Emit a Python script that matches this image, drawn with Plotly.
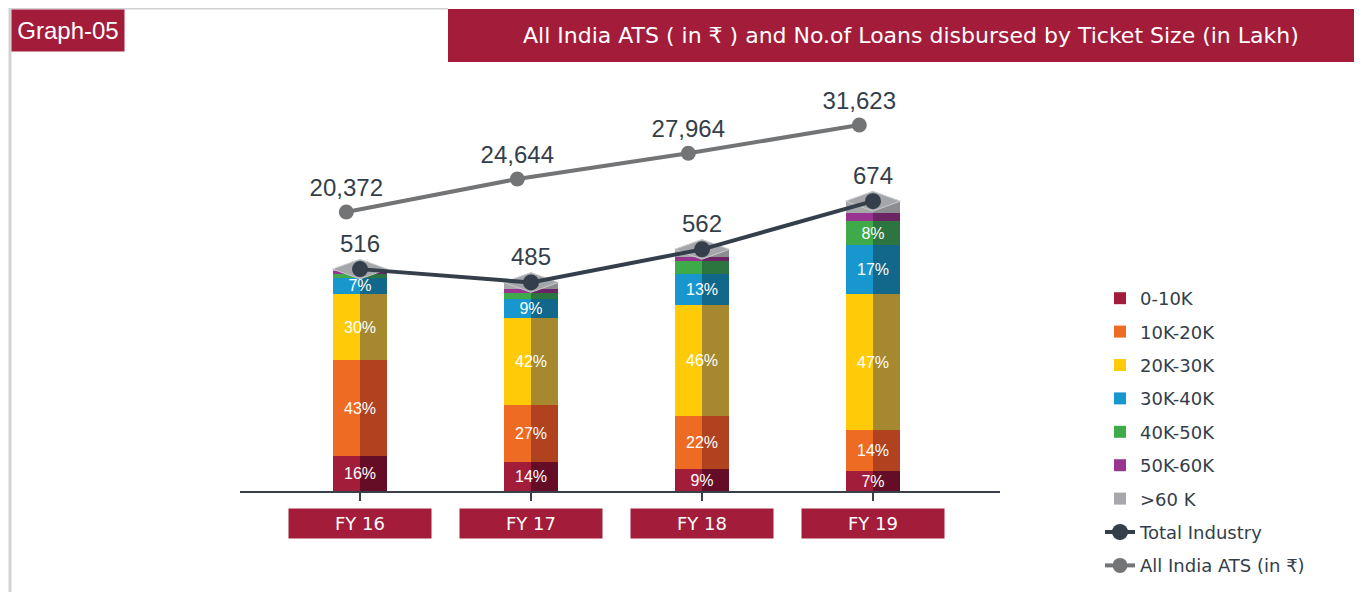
import plotly.graph_objects as go

# ---------------- data ----------------
years = ["FY 16", "FY 17", "FY 18", "FY 19"]
total_industry = [516, 485, 562, 674]          # No. of loans (in lakh)
ats = [20372, 24644, 27964, 31623]             # All India ATS (in ₹)

segments = ["0-10K", "10K-20K", "20K-30K", "30K-40K", "40K-50K", "50K-60K", ">60 K"]
share_0_10 = [16, 14, 9, 7]
share_10_20 = [43, 27, 22, 14]
share_20_30 = [30, 42, 46, 47]
share_30_40 = [7, 9, 13, 17]
share_40_50 = [2, 3, 5, 8]
share_50_60 = [1, 2, 2, 3]
share_60_plus = [1, 3, 3, 4]
shares = [share_0_10, share_10_20, share_20_30, share_30_40,
          share_40_50, share_50_60, share_60_plus]

# ---------------- style ----------------
PAD = 8                   # page body margin
W, H = 1362 - PAD, 592 - PAD
CRIMSON = "#A31C3A"
TEXT = "#343E4A"
FONT = "Liberation Sans, Arial, Helvetica, sans-serif"
WIDE = "DejaVu Sans, Verdana, sans-serif"
face_left = ["#A21D3A", "#EE6B24", "#FFCB08", "#1797CD", "#3FAA4A", "#973590", "#A6A8AB"]
face_right = ["#650D26", "#B0421F", "#A6892F", "#11688A", "#2C7440", "#6C2465", "#8B8D90"]
top_color = "#A4A6A9"

half_w = 0.16            # half bar width in category units
off = half_w / 2
diamond_h = 23           # iso depth of top face, in y units

px_per_x = 171
x0_px = 360
dom_l, dom_r = 240, 1000
base_px, top_px = 491, 70
px_per_unit = 0.43

def xp(px):
    return (px - PAD) / W

def yp(px):
    return 1 - (px - PAD) / H

x_range = [(dom_l - x0_px) / px_per_x, (dom_r - x0_px) / px_per_x]
y_range = [0, (base_px - top_px) / px_per_unit]
# ATS axis fitted so first / last points land near reference positions
s = (212 - 125) / (ats[-1] - ats[0])
y2_span = (base_px - top_px) / s
y2_lo = ats[0] - (base_px - 212) / s
y2_range = [y2_lo, y2_lo + y2_span]

fig = go.Figure()

idx = list(range(len(years)))
bar_x = []
for i in idx:
    bar_x += [i - off, i + off]

for k, name in enumerate(segments):
    vals = []
    cols = []
    for i in idx:
        v = shares[k][i] / 100 * total_industry[i]
        vals += [v, v]
        cols += [face_left[k], face_right[k]]
    fig.add_trace(go.Bar(
        x=bar_x, y=vals, width=half_w, name=name,
        marker=dict(color=cols, line=dict(width=0)),
        legendgroup=name, hoverinfo="skip"))

# top faces (iso diamonds) from totals
tx, ty = [], []
for i in idx:
    T = sum(shares[k][i] for k in range(len(segments))) / 100 * total_industry[i]
    tx += [i - half_w, i, i + half_w, i, i - half_w, None]
    ty += [T, T + diamond_h, T, T - diamond_h, T, None]
fig.add_trace(go.Scatter(x=tx, y=ty, mode="lines", fill="toself",
                         fillcolor=top_color, line=dict(color="#C9CBCD", width=1),
                         showlegend=False, hoverinfo="skip"))

# percentage labels
lx, ly, lt = [], [], []
for i in idx:
    cum = 0
    for k in range(len(segments)):
        v = shares[k][i] / 100 * total_industry[i]
        if shares[k][i] >= 7:
            lx.append(i)
            ly.append(cum + v / 2 - 4)
            lt.append(f"{shares[k][i]}%")
        cum += v
fig.add_trace(go.Scatter(x=lx, y=ly, text=lt, mode="text",
                         textfont=dict(color="white", size=16, family=FONT),
                         showlegend=False, hoverinfo="skip"))

# lines
fig.add_trace(go.Scatter(
    x=idx, y=total_industry, name="Total Industry", mode="lines+markers+text",
    line=dict(color="#343F4B", width=4), marker=dict(size=16, color="#343F4B"),
    text=[str(v) for v in total_industry], textposition="top center",
    textfont=dict(size=24, color=TEXT, family=FONT), legendgroup="ti", cliponaxis=False))
fig.add_trace(go.Scatter(
    x=[i - off for i in idx], y=ats, name="All India ATS (in ₹)", mode="lines+markers+text",
    line=dict(color="#737476", width=4), marker=dict(size=15, color="#737476"),
    text=[f"{v:,}" for v in ats], textposition="top center",
    textfont=dict(size=24, color=TEXT, family=FONT), yaxis="y2",
    legendgroup="ats", cliponaxis=False))

annotations = []
for i, yr in enumerate(years):
    annotations.append(dict(
        x=i, xref="x", y=yp(523.5), yref="paper", text=yr, showarrow=False,
        xanchor="center", yanchor="middle",
        bgcolor=CRIMSON, width=140, height=27, font=dict(color="white", size=18, family=WIDE)))
annotations.append(dict(
    x=xp(11), y=yp(9), xref="paper", yref="paper", xanchor="left", yanchor="top",
    text="Graph-05", showarrow=False, bgcolor=CRIMSON, width=110, height=39,
    font=dict(color="white", size=24, family=FONT)))
annotations.append(dict(
    x=xp(911), y=yp(35), xref="paper", yref="paper", xanchor="center", yanchor="middle",
    text="All India ATS ( in ₹ ) and No.of Loans disbursed by Ticket Size (in Lakh)",
    showarrow=False, font=dict(color="white", size=22, family=WIDE)))

shapes = [
    dict(type="rect", xref="paper", yref="paper", x0=xp(448), x1=1.0, y0=yp(62), y1=yp(9),
         fillcolor=CRIMSON, line=dict(width=0), layer="below"),
    dict(type="line", xref="paper", yref="paper", x0=xp(9), x1=xp(448), y0=yp(8), y1=yp(8),
         line=dict(color="#D2D2D2", width=3)),
    dict(type="line", xref="paper", yref="paper", x0=xp(10), x1=xp(10), y0=yp(8), y1=0,
         line=dict(color="#D2D2D2", width=3)),
]

fig.update_layout(
    width=W, height=H, barmode="stack", bargap=0,
    margin=dict(l=0, r=0, t=0, b=0),
    paper_bgcolor="white", plot_bgcolor="white",
    font=dict(family=FONT, color=TEXT),
    xaxis=dict(domain=[xp(dom_l), xp(dom_r)], range=x_range, showgrid=False, zeroline=False,
               showline=True, linecolor="#3A4049", linewidth=2,
               tickvals=idx, ticktext=["" for _ in idx], ticks="outside", ticklen=8,
               tickwidth=2, tickcolor="#3A4049", fixedrange=True),
    yaxis=dict(domain=[yp(base_px), yp(top_px)], range=y_range, visible=False, fixedrange=True),
    yaxis2=dict(domain=[yp(base_px), yp(top_px)], range=y2_range, overlaying="y",
                visible=False, fixedrange=True),
    showlegend=True,
    legend=dict(x=xp(1100), y=yp(280), xanchor="left", yanchor="top",
                traceorder="grouped", tracegroupgap=7,
                font=dict(size=18, color=TEXT, family=WIDE), bgcolor="rgba(0,0,0,0)"),
    annotations=annotations, shapes=shapes,
)

fig.write_html("out.html")
